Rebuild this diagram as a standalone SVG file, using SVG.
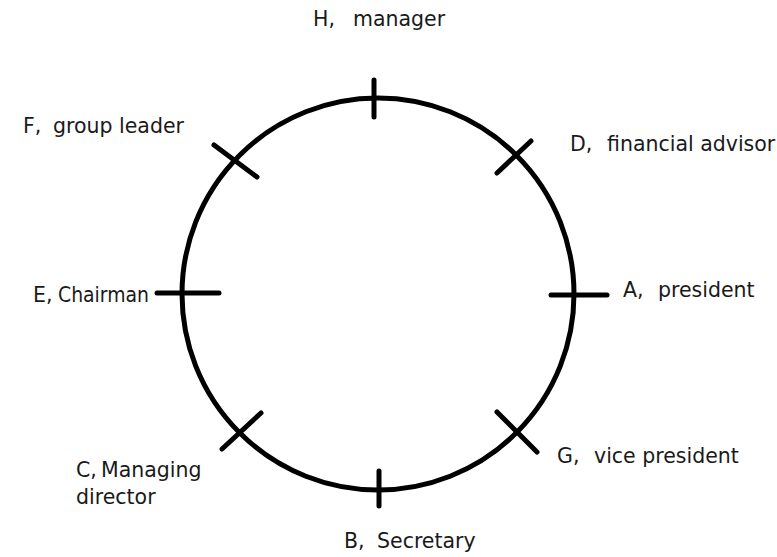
<svg xmlns="http://www.w3.org/2000/svg" width="777" height="557" viewBox="0 0 777 557">
<style>
.ring{fill:none;stroke:#000;stroke-width:5}
.tick{stroke:#000;stroke-width:5;stroke-linecap:round}
.lbl{font-family:"DejaVu Sans","Noto Sans",sans-serif;font-size:20.5px;fill:#1a1a1a}
</style>
<rect width="777" height="557" fill="#fff"/>
<g id="connectors">
<circle class="ring" cx="378" cy="294" r="196"/>
</g>
<g id="node-H">
<line class="tick" x1="374" y1="80" x2="374" y2="117"/>
<text class="lbl" x="313" y="26">H, <tspan x="353">manager</tspan></text>
</g>
<g id="node-F">
<line class="tick" x1="214" y1="145" x2="257" y2="177"/>
<text class="lbl" x="23" y="133">F, <tspan x="53">group leader</tspan></text>
</g>
<g id="node-D">
<line class="tick" x1="497" y1="173" x2="531" y2="141"/>
<text class="lbl" x="570" y="151">D, <tspan x="607">financial advisor</tspan></text>
</g>
<g id="node-E">
<line class="tick" x1="157" y1="293" x2="219" y2="293"/>
<text class="lbl" x="33" y="302">E,<tspan x="52"> </tspan><tspan x="58" textLength="91" lengthAdjust="spacingAndGlyphs">Chairman</tspan></text>
</g>
<g id="node-A">
<line class="tick" x1="551" y1="295" x2="607" y2="295"/>
<text class="lbl" x="623" y="297">A, <tspan x="658">president</tspan></text>
</g>
<g id="node-G">
<line class="tick" x1="497" y1="412" x2="537" y2="452"/>
<text class="lbl" x="557" y="463">G, <tspan x="594">vice president</tspan></text>
</g>
<g id="node-C">
<line class="tick" x1="222" y1="449" x2="261" y2="413"/>
<text class="lbl" x="76" y="477">C,<tspan x="95"> </tspan><tspan x="101">Managing</tspan><tspan x="76" y="504">director</tspan></text>
</g>
<g id="node-B">
<line class="tick" x1="379" y1="471" x2="379" y2="506"/>
<text class="lbl" x="344" y="548">B, <tspan x="377">Secretary</tspan></text>
</g>
</svg>
